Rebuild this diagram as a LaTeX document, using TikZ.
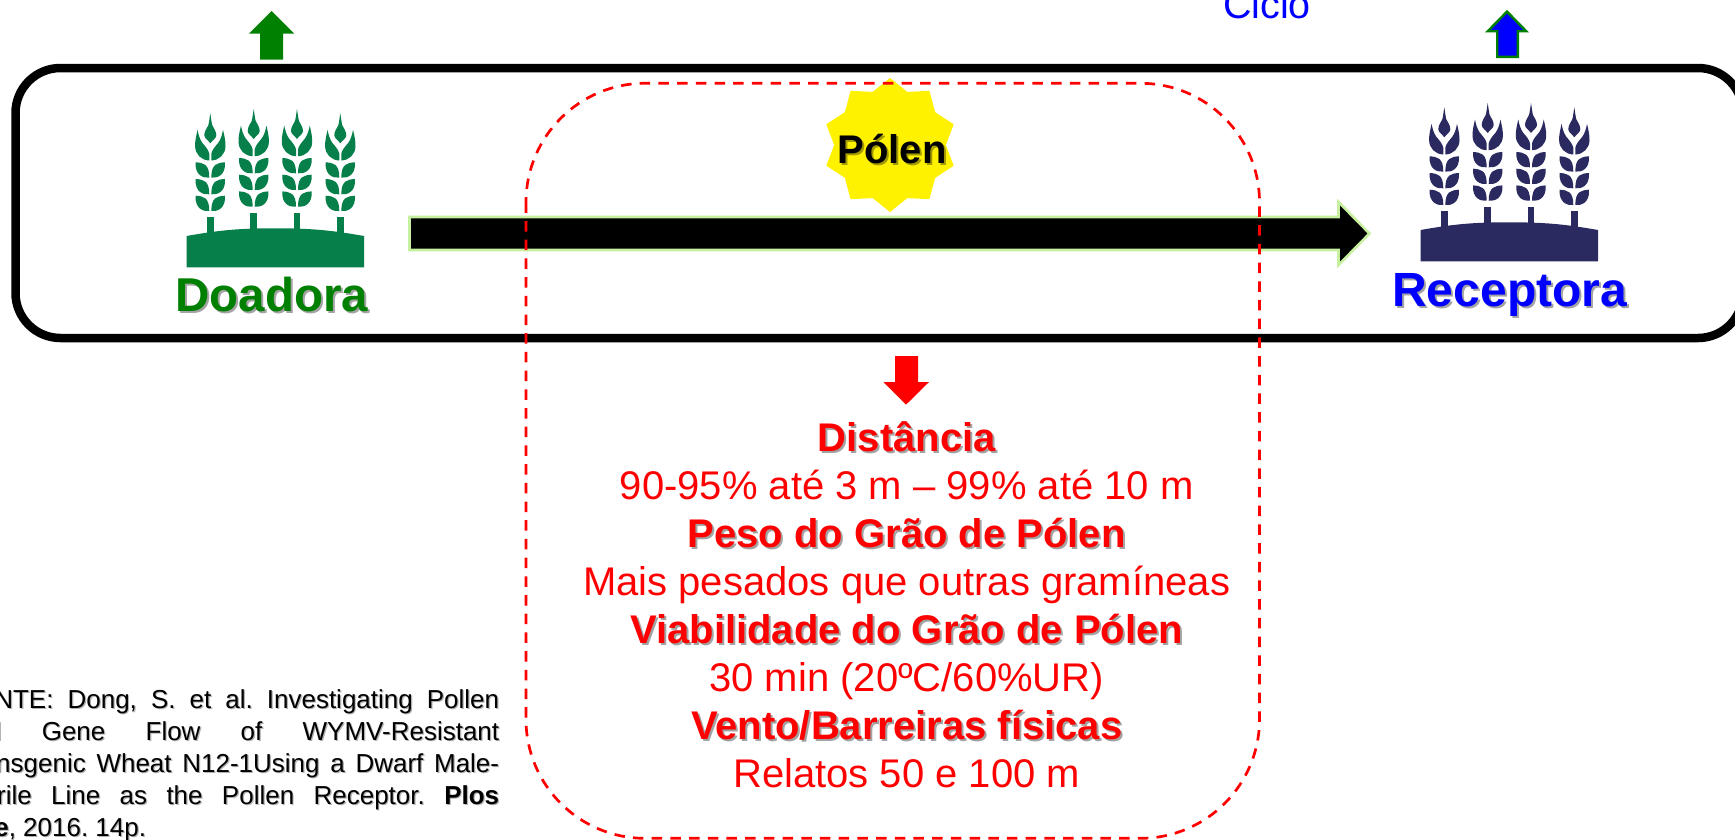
\documentclass[tikz,border=0pt]{standalone}
\usepackage{fontspec}
\setmainfont{Liberation Sans}
\usetikzlibrary{shapes.geometric}
\definecolor{wheatgreen}{HTML}{067F4B}
\definecolor{wheatnavy}{HTML}{2A2A60}
\definecolor{arrowedge}{HTML}{C6EFA0}
\definecolor{labelgreen}{HTML}{008000}
\colorlet{wheatcol}{wheatgreen}
\tikzset{
  x=1pt,y=-1pt,
  txt/.style={inner sep=0pt,outer sep=0pt,anchor=base},
  shade txt/.style={txt,text=black,text opacity=.36},
  frame/.style={draw=black,line width=8.5pt,rounded corners=45pt},
  dash frame/.style={draw=red,line width=2.7pt,rounded corners=119pt,dash pattern=on 10.5pt off 8.2pt},
  ear/.pic={
    \fill[wheatcol] (0,0) .. controls (.8,5) and (1.2,9) .. (2,12) .. controls (3.5,15) and (6,18) .. (6,22)
       .. controls (6,25) and (2,27) .. (0,30) .. controls (-2,27) and (-6,25) .. (-6,22)
       .. controls (-6,18) and (-3.5,15) .. (-2,12) .. controls (-1.2,9) and (-.8,5) .. (0,0) -- cycle;
    \foreach \sgn in {1,-1}{
      \begin{scope}[xscale=\sgn]
      \fill[wheatcol] (12.7,16.5) .. controls (14,22) and (15.4,28) .. (15.2,33) .. controls (15,41) and (9,47) .. (1,47.2)
        -- (1,40.5) .. controls (1.5,37) and (5,33) .. (8,29.5) .. controls (10.5,26) and (12,21) .. (12.7,16.5) -- cycle;
      \foreach \rowy in {49,65.7,82.4}{
        \fill[wheatcol,shift={(0,\rowy)}] (14.7,0) .. controls (7,.5) and (1,1.5) .. (1,15.3) .. controls (7,16) and (15.5,13) .. (14.7,0) -- cycle;
      }
      \end{scope}
    }
  },
  wheat icon/.pic={
    \foreach \ex/\ey in {210.3/113.3,253.7/109,297/109,340.3/113.3}{
      \pic at (\ex,\ey) {ear};
      \fill[wheatcol] (\ex-3.4,\ey+103.5) rectangle (\ex+3.4,236);
    }
    \fill[wheatcol] (186.7,267.3) -- (186.7,236) .. controls (220,230) and (240,228.3) .. (275,228.3) .. controls (310,228.3) and (330,230) .. (364,236) -- (364,267.3) -- cycle;
  }
}
\newcommand{\shlabel}[6]{% name,x,y,size,colour,text
  \node[shade txt] at (#2+2,#3+2) {\fontsize{#4}{#4}\selectfont\bfseries #6};
  \node[txt,text=#5] (#1) at (#2,#3) {\fontsize{#4}{#4}\selectfont\bfseries #6};
}
\newcommand{\plainlabel}[5]{%
  \node[txt,text=#4] (#1) at (#2,#3) {\fontsize{40}{40}\selectfont #5};
}
\newcommand{\footlines}{%
  \vtop{\frenchspacing\baselineskip=32pt\fontsize{26}{32}\selectfont
    \hbox to 541pt{FONTE: Dong, S. et al. Investigating Pollen}
    \hbox to 541pt{and Gene Flow of WYMV-Resistant}
    \hbox to 541pt{Transgenic Wheat N12-1Using a Dwarf Male-}
    \hbox to 541pt{Sterile Line as the Pollen Receptor. \textbf{Plos}}
    \hbox{\textbf{One}, 2016. 14p.}}}
\begin{document}
\begin{tikzpicture}
\useasboundingbox (0,0) rectangle (1735,839);
\fill[white] (0,0) rectangle (1735,839);

% rounded frame, running off the right edge
\draw[frame] (15.5,68) rectangle (1743,338);

% up arrows
\fill[labelgreen] (271.7,11) -- (294,33.5) -- (283,33.5) -- (283,59.5) -- (260,59.5) -- (260,33.5) -- (249,33.5) -- cycle;
\draw[draw=labelgreen,fill=blue,line width=2.4pt,miter limit=3] (1507,11.6) -- (1526.2,31.2) -- (1517.8,31.2) -- (1517.8,56.8) -- (1497.2,56.8) -- (1497.2,31.2) -- (1487.8,31.2) -- cycle;

% cycle label, cut by the top edge
\node[txt,text=blue] (ciclo) at (1267,18.5) {\fontsize{39.5}{39.5}\selectfont Ciclo};

% wheat icons
\pic {wheat icon};
\begin{scope}[shift={(1234,-6)}]
  \colorlet{wheatcol}{wheatnavy}
  \pic {wheat icon};
\end{scope}

% big arrow
\draw[draw=arrowedge,fill=black,line width=2.6pt,miter limit=3]
  (409.5,217) -- (1338.5,217) -- (1338.5,202) -- (1369.5,233.5) -- (1338.5,265) -- (1338.5,250) -- (409.5,250) -- cycle;

% star
\node[star,star points=10,star point ratio=1.2,minimum size=134pt,inner sep=0pt,fill=yellow] (star) at (890,145) {};
\shlabel{polen}{892}{163}{40}{black}{Pólen}

% red down arrow
\fill[red] (895,356) -- (918,356) -- (918,382) -- (929,382) -- (906,404.7) -- (883.5,382) -- (895,382) -- cycle;

% main labels
\shlabel{doadora}{272}{311.7}{47.5}{labelgreen}{Doadora}
\shlabel{receptora}{1509.7}{306.7}{48}{blue}{Receptora}

\shlabel{l1}{906.7}{451.5}{40}{red}{Distância}
\plainlabel{l2}{906.7}{499.5}{red}{90-95\% até 3 m – 99\% até 10 m}
\shlabel{l3}{906.7}{547.5}{40}{red}{Peso do Grão de Pólen}
\plainlabel{l4}{906.7}{595.5}{red}{Mais pesados que outras gramíneas}
\shlabel{l5}{906.7}{643}{40}{red}{Viabilidade do Grão de Pólen}
\plainlabel{l6}{906.7}{691.5}{red}{30 min (20ºC/60\%UR)}
\shlabel{l7}{906.7}{739}{40}{red}{Vento/Barreiras físicas}
\plainlabel{l8}{906.7}{787.5}{red}{Relatos 50 e 100 m}

% source note, cut by the left edge
\node[inner sep=0pt,anchor=base west,text=black,text opacity=.3] at (-40.8,709.2) {\footlines};
\node[inner sep=0pt,anchor=base west] (fonte) at (-42,708) {\footlines};

% dashed frame on top
\draw[dash frame] (526,83.3) rectangle (1259.5,838.3);
\end{tikzpicture}
\end{document}
